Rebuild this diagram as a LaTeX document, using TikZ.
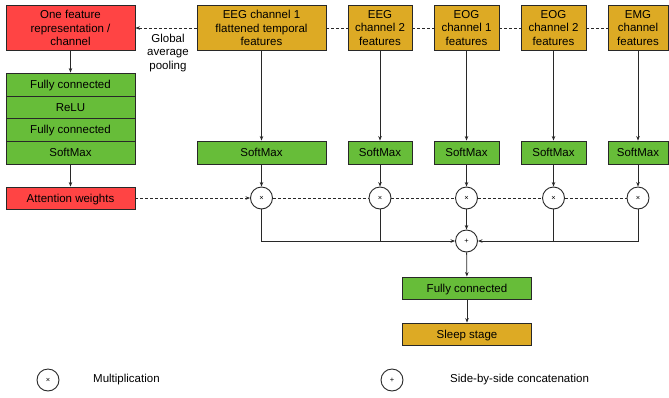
\documentclass[tikz,border=0pt]{standalone}
\usepackage{fontspec}
\setmainfont{Liberation Sans}
\usetikzlibrary{arrows.meta}
\definecolor{boxred}{RGB}{255,68,68}
\definecolor{boxgreen}{RGB}{103,189,57}
\definecolor{boxgold}{RGB}{221,170,36}
\definecolor{edge}{RGB}{40,40,40}
\tikzset{
  base/.style={draw=edge, line width=0.9pt, rectangle, inner sep=0pt, align=center,
    font=\fontsize{11.5}{13.5}\selectfont, text=black},
  oneline/.style={text height=10pt, text depth=2pt},
  redbox/.style={base, fill=boxred},
  greenbox/.style={base, fill=boxgreen},
  goldbox/.style={base, fill=boxgold},
  opnode/.style={draw=edge, line width=0.9pt, circle, fill=white, minimum size=22pt, inner sep=0pt,
    font=\fontsize{7.5}{8}\selectfont},
  conn/.style={draw=edge, line width=0.8pt},
  arr/.style={conn, -{Stealth[length=4.5pt,width=3.5pt]}},
  darr/.style={arr, dashed, dash pattern=on 3pt off 2pt},
  dline/.style={conn, dashed, dash pattern=on 3pt off 2pt},
  lbl/.style={font=\fontsize{11.5}{13.5}\selectfont, align=center, inner sep=0pt}
}
\begin{document}
\begin{tikzpicture}[x=1pt,y=-1pt]
\useasboundingbox (0,0) rectangle (669,397);
% left column
\node[redbox, minimum width=129pt, minimum height=45pt] (rep) at (70.5,28) {One feature\\representation /\\channel};
\node[greenbox, oneline, minimum width=129pt, minimum height=23pt] (fc1) at (70.5,84.5) {Fully connected};
\node[greenbox, oneline, minimum width=129pt, minimum height=22pt] (relu) at (70.5,107) {ReLU};
\node[greenbox, oneline, minimum width=129pt, minimum height=23pt] (fc2) at (70.5,129.5) {Fully connected};
\node[greenbox, oneline, minimum width=129pt, minimum height=23pt] (sm0) at (70.5,152.5) {SoftMax};
\node[redbox, oneline, minimum width=129pt, minimum height=22pt] (att) at (70.5,198) {Attention weights};
\node[lbl] (gap) at (168,53) {Global\\average\\pooling};
% top channel boxes
\node[goldbox, minimum width=129pt, minimum height=45pt] (c1) at (261.5,28) {EEG channel 1\\flattened temporal\\features};
\node[goldbox, minimum width=64pt, minimum height=45pt] (c2) at (380,28) {EEG\\channel 2\\features};
\node[goldbox, minimum width=65pt, minimum height=45pt] (c3) at (466.5,28) {EOG\\channel 1\\features};
\node[goldbox, minimum width=65pt, minimum height=45pt] (c4) at (553.5,28) {EOG\\channel 2\\features};
\node[goldbox, minimum width=60pt, minimum height=45pt] (c5) at (638,28) {EMG\\channel\\features};
% softmax boxes
\node[greenbox, oneline, minimum width=129pt, minimum height=23pt] (s1) at (261.5,152.5) {SoftMax};
\node[greenbox, oneline, minimum width=64pt, minimum height=23pt] (s2) at (380,152.5) {SoftMax};
\node[greenbox, oneline, minimum width=65pt, minimum height=23pt] (s3) at (466.5,152.5) {SoftMax};
\node[greenbox, oneline, minimum width=65pt, minimum height=23pt] (s4) at (553.5,152.5) {SoftMax};
\node[greenbox, oneline, minimum width=60pt, minimum height=23pt] (s5) at (638,152.5) {SoftMax};
% multiplication nodes
\node[opnode] (m1) at (261.5,198) {×};
\node[opnode] (m2) at (380,198) {×};
\node[opnode] (m3) at (466.5,198) {×};
\node[opnode] (m4) at (553.5,198) {×};
\node[opnode] (m5) at (638,198) {×};
% concatenation
\node[opnode] (pl) at (466.5,241) {+};
\node[greenbox, oneline, minimum width=129pt, minimum height=22pt] (fcb) at (467,288) {Fully connected};
\node[goldbox, oneline, minimum width=129pt, minimum height=22pt] (sleep) at (467,334) {Sleep stage};
% legend
\node[opnode] (lm) at (48,380) {×};
\node[lbl, anchor=west] (lmt) at (93,380) {Multiplication};
\node[opnode] (lp) at (392,380) {+};
\node[lbl, anchor=west] (lpt) at (450,380) {Side-by-side concatenation};
% connectors left column
\draw[arr] (rep) -- (fc1);
\draw[arr] (sm0) -- (att);
\draw[darr] (c1) -- (rep);
\draw[dline] (c1) -- (c2);
\draw[dline] (c2) -- (c3);
\draw[dline] (c3) -- (c4);
\draw[dline] (c4) -- (c5);
% channel to softmax to mult
\foreach \i in {1,...,5} {
  \draw[arr] (c\i) -- (s\i);
  \draw[arr] (s\i) -- (m\i);
}
\draw[darr] (att) -- (m1);
\draw[dline] (m1) -- (m2);
\draw[dline] (m2) -- (m3);
\draw[dline] (m3) -- (m4);
\draw[dline] (m4) -- (m5);
% to concatenation
\draw[conn] (m2.south) -- (m2.south |- pl.center);
\draw[arr] (m1.south) |- (pl.west);
\draw[conn] (m4.south) -- (m4.south |- pl.center);
\draw[arr] (m5.south) |- (pl.east);
\draw[arr] (m3) -- (pl);
\draw[arr] (pl) -- (fcb);
\draw[arr] (fcb) -- (sleep);
\end{tikzpicture}
\end{document}
